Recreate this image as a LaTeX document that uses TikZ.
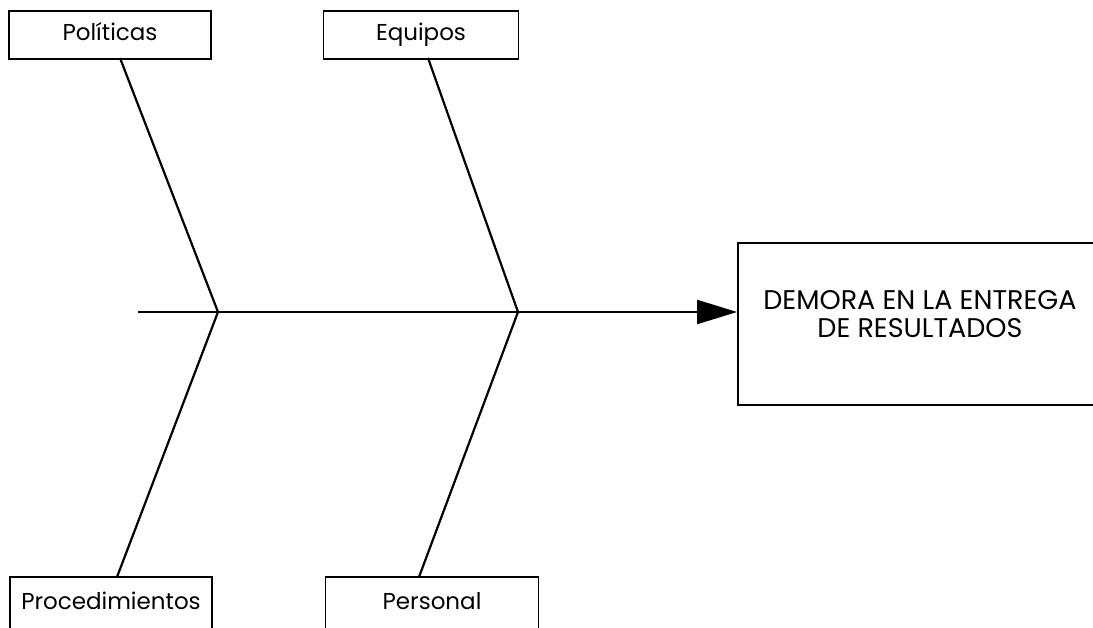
\documentclass[tikz,border=0pt]{standalone}
\usepackage{fontspec}
\setmainfont{Poppins}
\usetikzlibrary{arrows.meta}
\begin{document}
\begin{tikzpicture}[x=1pt,y=-1pt,
  catbox/.style={draw, line width=1.8pt, inner sep=0pt, text height=16pt, text depth=5pt, font=\fontsize{23}{26}\selectfont},
  bone/.style={line width=2.2pt},
  efffont/.style={font=\fontsize{27}{28}\selectfont}]
\clip (0,0) rectangle (1093,628);
\fill[white] (0,0) rectangle (1093,628);
% category boxes
\node[catbox, minimum width=202pt, minimum height=48pt] (pol) at (110,35) {Políticas};
\node[catbox, minimum width=195pt, minimum height=48pt] (equ) at (421,35) {Equipos};
\node[catbox, minimum width=202pt, minimum height=54pt] (proc) at (111,604) {Procedimientos};
\node[catbox, minimum width=213pt, minimum height=54pt] (pers) at (432,604) {Personal};
% effect box
\node[draw, line width=1.8pt, minimum width=364pt, minimum height=162pt] (eff) at (920,324) {};
\node[efffont, align=center] (efftext) at (920,314) {DEMORA EN LA ENTREGA\\DE RESULTADOS};
% spine
\coordinate (tail) at (138,312);
\coordinate (j1) at (218,312);
\coordinate (j2) at (518,312);
\coordinate (u1) at (120,58);
\coordinate (u2) at (428,58);
\coordinate (d1) at (117,577);
\coordinate (d2) at (419,577);
\draw[bone] (tail) -- (j1) -- (j2);
\draw[bone, -{Triangle[length=40pt,width=24pt]}] (j2) -- (eff.west |- j2);
\draw[bone] (u1) -- (j1) -- (d1);
\draw[bone] (u2) -- (j2) -- (d2);
\end{tikzpicture}
\end{document}
